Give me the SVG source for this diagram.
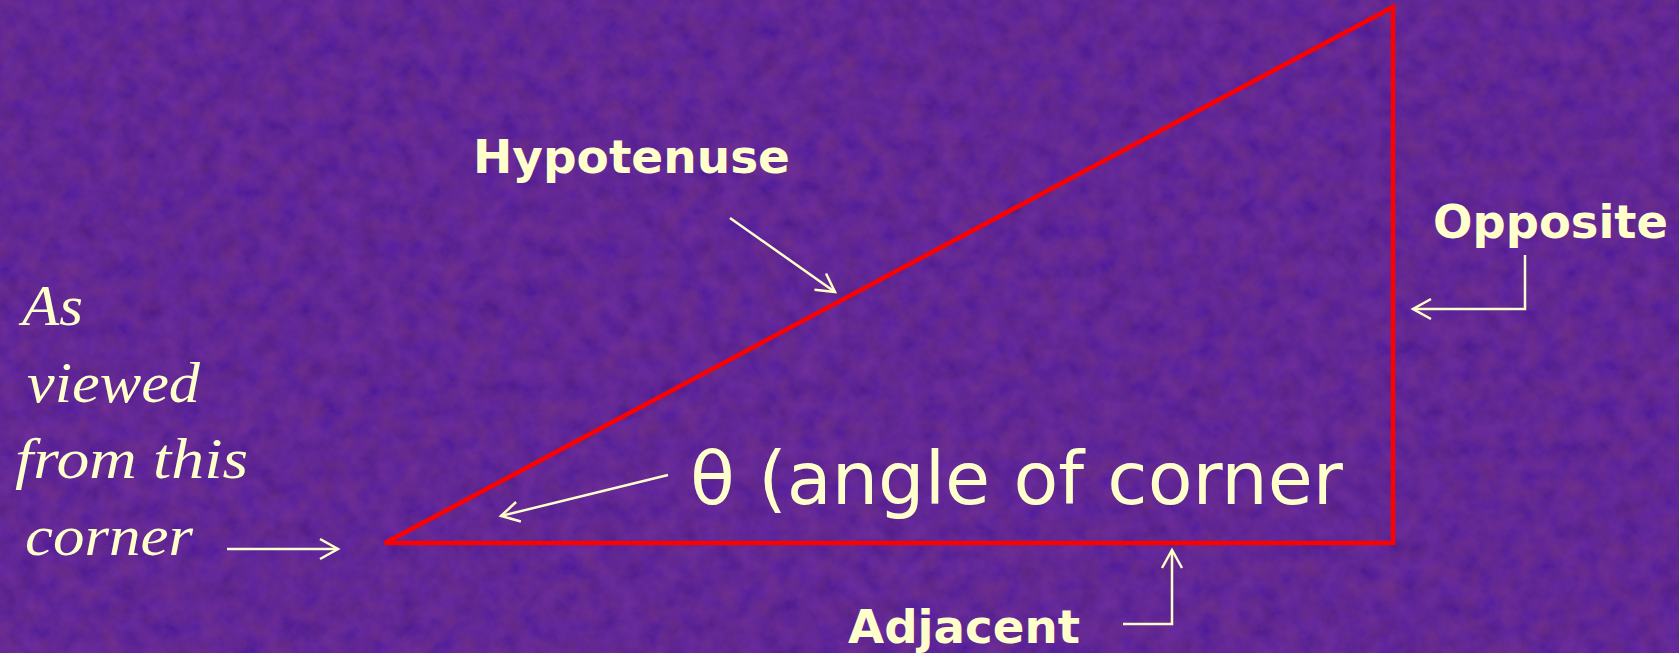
<svg xmlns="http://www.w3.org/2000/svg" width="1679" height="653" viewBox="0 0 1679 653">
  <style>
    .lbl { fill: #FFFFCC; font-family: "DejaVu Sans", Verdana, sans-serif; font-weight: bold; font-size: 46px; }
    .big { fill: #FFFFCC; font-family: "DejaVu Sans", Verdana, sans-serif; font-size: 73px; }
    .ital { fill: #FFFFCC; font-family: "Liberation Serif", "Times New Roman", serif; font-style: italic; font-size: 58px; }
    .conn { fill: none; stroke: #FFFFCC; stroke-width: 2.5; marker-end: url(#arr); }
    .tri { fill: none; stroke: #FF0000; stroke-width: 4.5; stroke-linejoin: miter; }
  </style>
  <defs>
    <marker id="arr" markerUnits="userSpaceOnUse" markerWidth="30" markerHeight="30" viewBox="-20 -15 30 30" refX="0" refY="0" orient="auto">
      <path d="M-18,-10 L0,0 L-18,10" fill="none" stroke="#FFFFCC" stroke-width="2.5"/>
    </marker>
    <filter id="tex" x="0" y="0" width="100%" height="100%">
      <feTurbulence type="fractalNoise" baseFrequency="0.05" numOctaves="4" seed="7"/>
      <feColorMatrix type="matrix" values="0.45 0 0 0 0.05  0.1 0 0 0 0  0 0.5 0 0 0.2  0 0 0 0 0.35"/>
    </filter>
  </defs>
  <g id="background">
    <rect x="0" y="0" width="1679" height="653" fill="#4a1a84"/>
    <rect x="0" y="0" width="1679" height="653" filter="url(#tex)"/>
  </g>
  <g id="triangle">
    <polygon class="tri" points="385,543 1393,7 1393,543"/>
  </g>
  <g id="hypotenuse-label">
    <text class="lbl" x="473" y="173" textLength="317" lengthAdjust="spacingAndGlyphs">Hypotenuse</text>
  </g>
  <g id="opposite-label">
    <text class="lbl" x="1433" y="238" textLength="235" lengthAdjust="spacingAndGlyphs">Opposite</text>
  </g>
  <g id="adjacent-label">
    <text class="lbl" x="848" y="643" textLength="232" lengthAdjust="spacingAndGlyphs">Adjacent</text>
  </g>
  <g id="angle-label">
    <text class="big" x="690" y="504" textLength="653" lengthAdjust="spacingAndGlyphs">θ (angle of corner</text>
  </g>
  <g id="viewpoint-label">
    <text class="ital" x="22" y="325" textLength="61" lengthAdjust="spacingAndGlyphs">As</text>
    <text class="ital" x="27" y="402" textLength="173" lengthAdjust="spacingAndGlyphs">viewed</text>
    <text class="ital" x="15" y="478" textLength="233" lengthAdjust="spacingAndGlyphs">from this</text>
    <text class="ital" x="25" y="555" textLength="168" lengthAdjust="spacingAndGlyphs">corner</text>
  </g>
  <g id="connectors">
    <line class="conn" x1="227" y1="549" x2="338" y2="549"/>
    <line class="conn" x1="730" y1="218" x2="835" y2="292"/>
    <line class="conn" x1="668" y1="475" x2="501" y2="516"/>
    <polyline class="conn" points="1525,255 1525,309 1413,309"/>
    <polyline class="conn" points="1123,624 1172,624 1172,550"/>
  </g>
</svg>
